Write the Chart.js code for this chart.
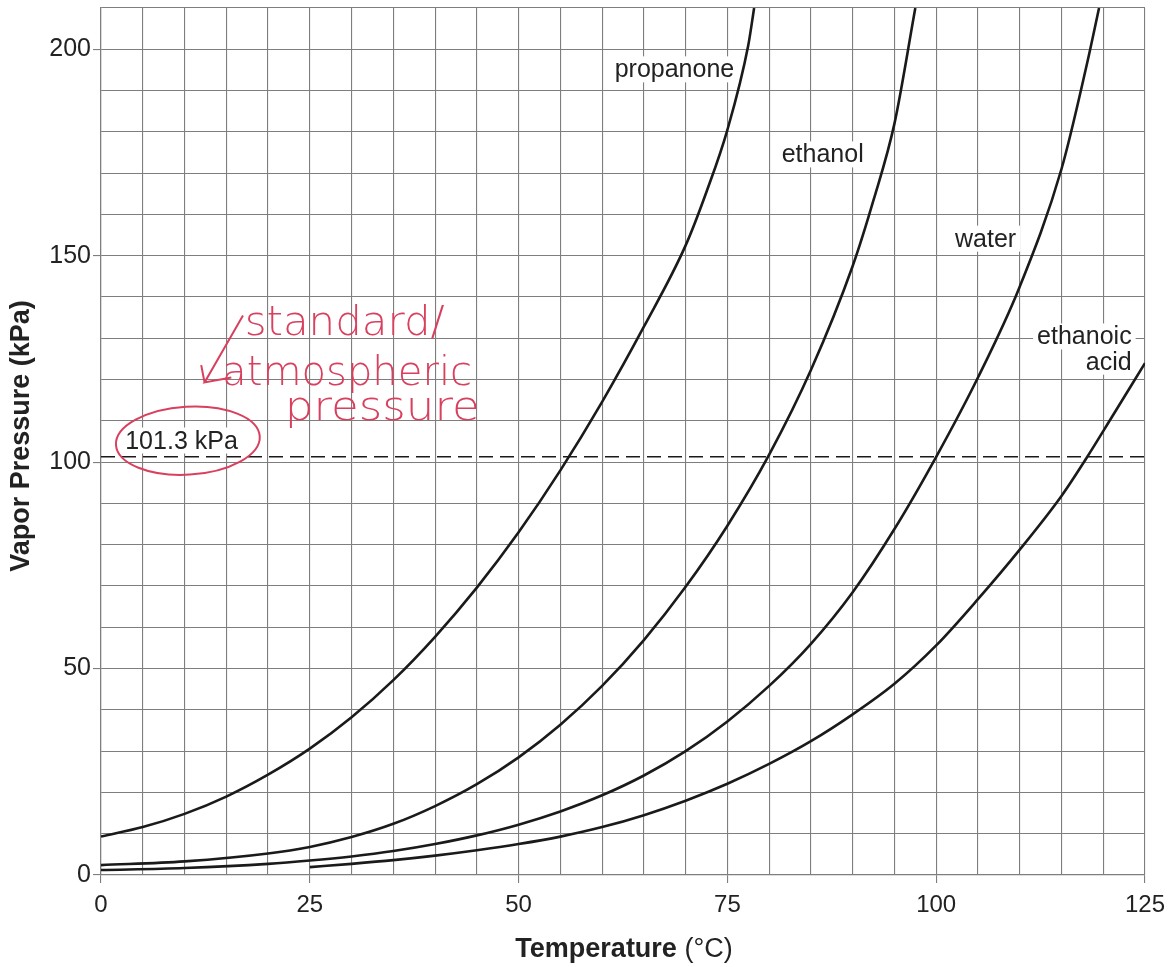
<!DOCTYPE html>
<html lang="en">
<head>
    <meta charset="UTF-8">
    <title>Vapor Pressure</title>
    <script src="https://cdn.jsdelivr.net/npm/chart.js"></script>
    <style>
        body { margin: 0; background: #fff; }
    </style>
</head>
<body>
    <canvas id="vaporChart" width="1171" height="967"></canvas>
    <script>
        // Values (Temperature in °C, pressure in kPa)
        const propanoneT = [0, 5, 10, 15, 20, 25, 30, 35, 40, 45, 50, 55, 60, 65, 70, 72.5, 75, 77.5, 78.2];
        const propanoneP = [9.3, 11.6, 14.8, 19.0, 24.3, 30.6, 38.2, 47.2, 57.7, 69.6, 83, 98, 114.6, 132.8, 152.5, 165.5, 180.5, 201, 210];

        const ethanolT = [0, 10, 20, 25, 30, 35, 40, 45, 50, 55, 60, 65, 70, 75, 80, 85, 90, 92.5, 95, 97.5];
        const ethanolP = [2.4, 3.3, 5.2, 6.8, 9.2, 12.4, 16.7, 22.0, 28.5, 36.4, 45.8, 56.9, 69.8, 84.6, 101.8, 122.3, 147.5, 163.5, 182, 210];

        const waterT = [0, 10, 20, 25, 30, 35, 40, 45, 50, 55, 60, 65, 70, 75, 80, 85, 90, 95, 100, 105, 110, 115, 118, 119.5];
        const waterP = [1.2, 1.7, 2.7, 3.5, 4.5, 5.8, 7.5, 9.6, 12.2, 15.4, 19.3, 24.1, 30.0, 37.2, 45.8, 56.0, 68.5, 83.8, 101.3, 120.5, 142.5, 171, 196, 210];

        const aceticT = [25, 30, 35, 40, 45, 50, 55, 60, 65, 70, 75, 80, 85, 90, 95, 100, 105, 110, 115, 118, 121, 125];
        const aceticP = [1.9, 2.7, 3.6, 4.7, 6.0, 7.5, 9.3, 11.6, 14.5, 18.0, 22.1, 26.9, 32.4, 38.9, 46.3, 55.6, 66.8, 78.8, 91.8, 101, 110.8, 124];

        const atmT = [0, 125];
        const atmP = [101.3, 101.3];

        const xTickLabels = [0, 25, 50, 75, 100, 125];
        const yTickLabels = [0, 50, 100, 150, 200];

        function toPoints(xs, ys) {
            return xs.map((x, i) => ({ x: x, y: ys[i] }));
        }

        function curve(data) {
            return {
                data: data,
                borderColor: '#1a1a1a',
                borderWidth: 2.6,
                pointRadius: 0,
                fill: false,
                cubicInterpolationMode: 'monotone'
            };
        }

        const gridGray = '#7e7e7e';
        const sans = '"Liberation Sans", Arial, sans-serif';

        // curve names and annotation text, drawn over the plot
        const annotations = {
            id: 'annotations',
            afterDatasetsDraw(chart) {
                const ctx = chart.ctx;
                const xs = chart.scales.x;
                const ys = chart.scales.y;
                const px = v => xs.getPixelForValue(v);
                const py = v => ys.getPixelForValue(v);

                ctx.save();
                ctx.font = '25px ' + sans;
                ctx.textBaseline = 'alphabetic';
                const names = [
                    { text: 'propanone', x: 61.5, y: 193.2, align: 'left' },
                    { text: 'ethanol', x: 81.5, y: 172.6, align: 'left' },
                    { text: 'water', x: 102.25, y: 152.2, align: 'left' },
                    { text: 'ethanoic', x: 123.4, y: 128.5, align: 'right' },
                    { text: 'acid', x: 123.4, y: 122.4, align: 'right' },
                    { text: '101.3 kPa', x: 2.9, y: 103.3, align: 'left' }
                ];
                names.forEach(n => {
                    const w = ctx.measureText(n.text).width;
                    const x0 = n.align === 'left' ? px(n.x) : px(n.x) - w;
                    const y0 = py(n.y);
                    ctx.fillStyle = '#fff';
                    ctx.fillRect(x0 - 4, y0 - 21, w + 8, 26);
                });
                names.forEach(n => {
                    ctx.fillStyle = '#222';
                    ctx.textAlign = n.align;
                    ctx.fillText(n.text, px(n.x), py(n.y));
                });

                // handwritten red notes
                const red = '#d9405e';
                ctx.strokeStyle = red;
                ctx.fillStyle = red;
                ctx.lineWidth = 2;
                ctx.beginPath();
                ctx.ellipse(px(10.4), py(105.2), 72, 34, -0.06, 0, Math.PI * 2);
                ctx.stroke();

                ctx.beginPath();
                ctx.moveTo(px(17), py(135.5));
                ctx.lineTo(px(12.4), py(119.3));
                ctx.lineTo(px(15.6), py(120.5));
                ctx.moveTo(px(12.4), py(119.3));
                ctx.lineTo(px(12.0), py(123.5));
                ctx.stroke();

                ctx.font = '300 40px "DejaVu Sans", sans-serif';
                ctx.textAlign = 'left';
                const notes = [
                    { text: 'standard/', x: 17.2, y: 130.9, w: 200 },
                    { text: 'atmospheric', x: 14.5, y: 118.8, w: 250 },
                    { text: 'pressure', x: 22, y: 110.3, w: 195 }
                ];
                notes.forEach(n => {
                    const m = ctx.measureText(n.text).width;
                    ctx.save();
                    ctx.translate(px(n.x), py(n.y));
                    ctx.scale(n.w / m, 1);
                    ctx.fillText(n.text, 0, 0);
                    ctx.restore();
                });

                // axis titles
                ctx.fillStyle = '#222';
                ctx.textBaseline = 'middle';
                ctx.textAlign = 'left';
                const t1 = 'Temperature';
                const t2 = ' (\u00B0C)';
                ctx.font = 'bold 27px ' + sans;
                const w1 = ctx.measureText(t1).width;
                ctx.font = '27px ' + sans;
                const w2 = ctx.measureText(t2).width;
                const sx = 624 - (w1 + w2) / 2;
                ctx.font = 'bold 27px ' + sans;
                ctx.fillText(t1, sx, 950);
                ctx.font = '27px ' + sans;
                ctx.fillText(t2, sx + w1, 950);

                ctx.save();
                ctx.translate(22, 436);
                ctx.rotate(-Math.PI / 2);
                ctx.textAlign = 'center';
                ctx.font = 'bold 27px ' + sans;
                ctx.fillText('Vapor Pressure (kPa)', 0, 0);
                ctx.restore();
                ctx.restore();
            }
        };

        const ctx = document.getElementById('vaporChart').getContext('2d');
        const vaporChart = new Chart(ctx, {
            type: 'line',
            data: {
                datasets: [
                    curve(toPoints(propanoneT, propanoneP)),
                    curve(toPoints(ethanolT, ethanolP)),
                    curve(toPoints(waterT, waterP)),
                    curve(toPoints(aceticT, aceticP)),
                    {
                        data: toPoints(atmT, atmP),
                        borderColor: '#1a1a1a',
                        borderWidth: 1.6,
                        borderDash: [14, 7],
                        pointRadius: 0,
                        fill: false
                    }
                ]
            },
            options: {
                responsive: false,
                animation: false,
                layout: {
                    padding: { top: 8, right: 26, left: 0, bottom: 0 }
                },
                plugins: {
                    legend: { display: false },
                    tooltip: { enabled: false }
                },
                scales: {
                    x: {
                        type: 'linear',
                        min: 0,
                        max: 125,
                        afterFit(scale) {
                            scale.height = 92;
                            scale.paddingLeft = 0;
                            scale.paddingRight = 0;
                        },
                        border: { color: gridGray, width: 1.2 },
                        grid: {
                            color: gridGray,
                            lineWidth: 1.1,
                            tickLength: 8,
                            tickColor: c => xTickLabels.includes(c.tick.value) ? gridGray : 'rgba(0,0,0,0)'
                        },
                        ticks: {
                            stepSize: 5,
                            autoSkip: false,
                            maxRotation: 0,
                            padding: 8,
                            color: '#222',
                            font: { family: sans, size: 24 },
                            callback: v => xTickLabels.includes(v) ? String(v) : ''
                        }
                    },
                    y: {
                        type: 'linear',
                        min: 0,
                        max: 210,
                        afterFit(scale) {
                            scale.width = 101;
                            scale.paddingTop = 0;
                            scale.paddingBottom = 0;
                        },
                        border: { color: gridGray, width: 1.2 },
                        grid: {
                            color: gridGray,
                            lineWidth: 1.1,
                            tickLength: 8,
                            tickColor: c => yTickLabels.includes(c.tick.value) ? gridGray : 'rgba(0,0,0,0)'
                        },
                        ticks: {
                            stepSize: 10,
                            autoSkip: false,
                            padding: 2,
                            color: '#222',
                            font: { family: sans, size: 25 },
                            callback: v => yTickLabels.includes(v) ? String(v) : ''
                        }
                    }
                }
            },
            plugins: [annotations]
        });
    </script>
</body>
</html>
